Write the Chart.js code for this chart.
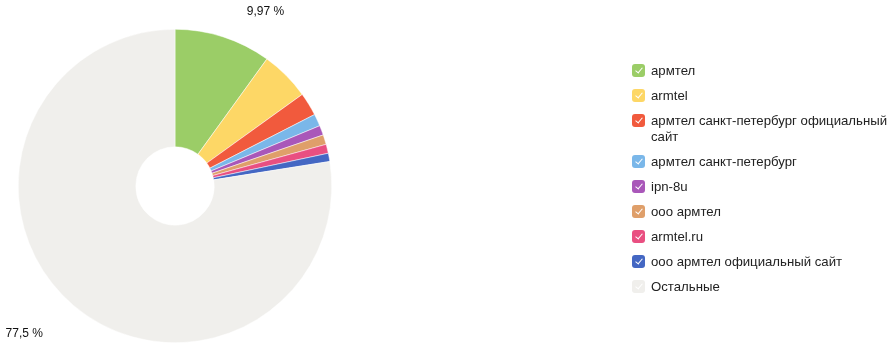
<!DOCTYPE html>
<html>
<head>
<meta charset="utf-8">
<script src="https://cdn.jsdelivr.net/npm/chart.js@4"></script>
<style>
  html, body { margin: 0; padding: 0; background: #fff; }
  #wrap { position: relative; width: 894px; height: 354px; overflow: hidden; }
  #c { position: absolute; left: 0; top: 0; }
  #legend { position: absolute; left: 632px; top: 63px; font-family: "Liberation Sans", Arial, sans-serif; font-size: 13.2px; color: #222; }
  .row { display: flex; align-items: flex-start; margin-bottom: 9px; line-height: 16px; }
  .box { position: relative; width: 13px; height: 13px; border-radius: 3px; margin-top: 1px; margin-right: 6px; flex: 0 0 13px; overflow: hidden; }
  .box::after { content: ""; position: absolute; left: 4.6px; top: 1.8px; width: 3px; height: 6px; border-right: 1.8px solid #fff; border-bottom: 1.8px solid #fff; transform: rotate(40deg); }
  .txt { white-space: pre; }
</style>
</head>
<body>
<div id="wrap">
  <canvas id="c" width="894" height="354"></canvas>
  <div id="legend"></div>
</div>
<script>
const categories = [
  "армтел",
  "armtel",
  "армтел санкт-петербург официальный\nсайт",
  "армтел санкт-петербург",
  "ipn-8u",
  "ооо армтел",
  "armtel.ru",
  "ооо армтел официальный сайт",
  "Остальные"
];
const shares = [9.97, 5.1, 2.4, 1.25, 1.0, 1.0, 0.93, 0.85, 77.5];
const shownLabels = [0, 8];
const colors = ["#9BCD67", "#FDD766", "#F15A3D", "#7AB7E9", "#A957B9", "#DF9F6A", "#E94F81", "#4467C3", "#F0EFEC"];

function fmt(v) { return String(v).replace('.', ',') + ' %'; }

const labelOffsets = { 0: [36, -6], 8: [-36, 13] };

const pctPlugin = {
  id: 'pct',
  afterDatasetsDraw(chart) {
    const ctx = chart.ctx;
    const meta = chart.getDatasetMeta(0);
    ctx.save();
    ctx.font = '12px "Liberation Sans", Arial, sans-serif';
    ctx.fillStyle = '#111';
    ctx.textAlign = 'center';
    ctx.textBaseline = 'middle';
    shownLabels.forEach(i => {
      const arc = meta.data[i];
      const mid = (arc.startAngle + arc.endAngle) / 2;
      const r = arc.outerRadius + 20;
      const off = labelOffsets[i] || [0, 0];
      const x = arc.x + Math.cos(mid) * r + off[0];
      const y = arc.y + Math.sin(mid) * r + off[1];
      ctx.fillText(fmt(shares[i]), x, y);
    });
    ctx.restore();
  }
};

new Chart(document.getElementById('c'), {
  type: 'doughnut',
  data: {
    labels: categories,
    datasets: [{
      data: shares,
      backgroundColor: colors,
      borderColor: '#ffffff',
      borderWidth: 0.5
    }]
  },
  options: {
    responsive: false,
    animation: false,
    cutout: '25%',
    layout: { padding: { left: 18, right: 562, top: 29, bottom: 11 } },
    plugins: { legend: { display: false }, tooltip: { enabled: false } }
  },
  plugins: [pctPlugin]
});

const lg = document.getElementById('legend');
categories.forEach((name, i) => {
  const row = document.createElement('div');
  row.className = 'row';
  const b = document.createElement('span');
  b.className = 'box';
  b.style.background = colors[i];
  const t = document.createElement('span');
  t.className = 'txt';
  t.textContent = name;
  row.appendChild(b);
  row.appendChild(t);
  lg.appendChild(row);
});
</script>
</body>
</html>
